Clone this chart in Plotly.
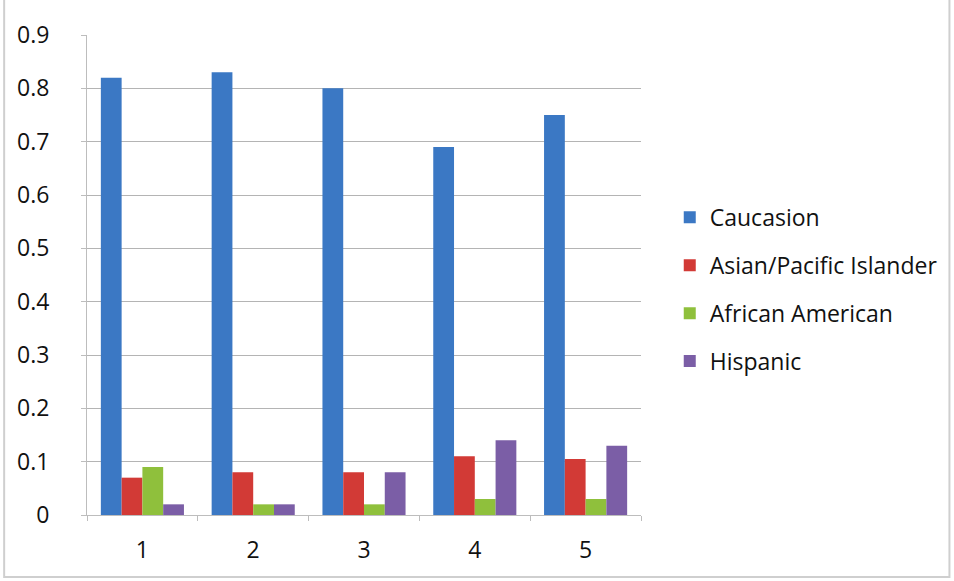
import plotly.graph_objects as go

categories = ["1", "2", "3", "4", "5"]
series_names = ["Caucasion", "Asian/Pacific Islander", "African American", "Hispanic"]
caucasion = [0.82, 0.83, 0.80, 0.69, 0.75]
asian_pacific = [0.07, 0.08, 0.08, 0.11, 0.105]
african_american = [0.09, 0.02, 0.02, 0.03, 0.03]
hispanic = [0.02, 0.02, 0.08, 0.14, 0.13]
y_ticks = [0, 0.1, 0.2, 0.3, 0.4, 0.5, 0.6, 0.7, 0.8, 0.9]
y_tick_labels = ["0", "0.1", "0.2", "0.3", "0.4", "0.5", "0.6", "0.7", "0.8", "0.9"]

colors = ["#3b78c4", "#d23a36", "#8fc03c", "#7b5ea6"]
values = [caucasion, asian_pacific, african_american, hispanic]

fig = go.Figure()
for name, vals, col in zip(series_names, values, colors):
    fig.add_trace(go.Bar(x=categories, y=vals, name=name, marker_color=col,
                         marker_line_width=0, legendgroup=name))

font_family = "'Open Sans', Lato, sans-serif"
fig.update_layout(
    width=954, height=581,
    margin=dict(l=87, r=312, t=35, b=66),
    paper_bgcolor="white", plot_bgcolor="white",
    barmode="group", bargap=0.25, bargroupgap=0,
    font=dict(family=font_family, size=23, color="#111111"),
    showlegend=True,
    legend=dict(x=1.05, xanchor="left", y=0.47, yanchor="middle",
                font=dict(size=23, color="#111111"), tracegroupgap=15,
                itemwidth=30, bgcolor="rgba(0,0,0,0)"),
    xaxis=dict(type="category", showgrid=False, showline=True, linecolor="#bdbdbd",
               linewidth=1, ticks="outside", tickson="boundaries", ticklen=5,
               tickcolor="#bdbdbd", ticklabelstandoff=14,
               tickfont=dict(size=23)),
    yaxis=dict(range=[0, 0.9], tickvals=y_ticks, ticktext=y_tick_labels,
               showgrid=True, gridcolor="#b4b4b4", gridwidth=1,
               showline=True, linecolor="#bdbdbd", linewidth=1,
               ticks="outside", ticklen=5, tickcolor="#bdbdbd",
               ticklabelstandoff=27, zeroline=False, tickfont=dict(size=23)),
)
fig.add_shape(type="rect", xref="paper", yref="paper",
              x0=-83/555, x1=(954-87-3)/555, y0=-62/480, y1=(581-35-4)/480,
              line=dict(color="#cfcfcf", width=2), fillcolor="rgba(0,0,0,0)")

fig.write_html("out.html")
